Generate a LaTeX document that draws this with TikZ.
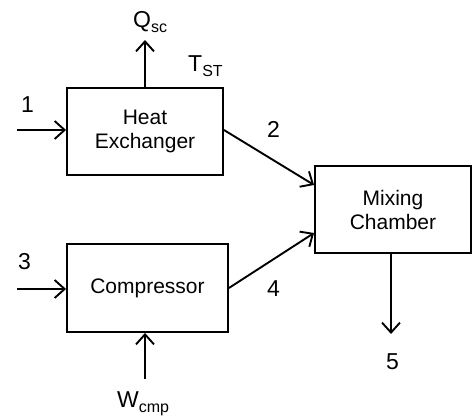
\documentclass[tikz,border=0pt]{standalone}
\usepackage{fontspec}
\setmainfont{Liberation Sans}
\usetikzlibrary{arrows.meta}
\newcommand{\sbs}[1]{\raisebox{-0.2em}{\fontsize{16}{16}\selectfont #1}}
\tikzset{
  blockbox/.style={draw, line width=1.9pt, inner sep=0pt, align=center,
    font=\fontsize{21}{24}\selectfont},
  flow/.style={line width=1.9pt, -{Straight Barb[length=10pt,width=18pt,line width=1.9pt]}},
  lbl/.style={inner sep=0pt, anchor=base west, font=\fontsize{23}{26}\selectfont},
}
\begin{document}
\begin{tikzpicture}[x=1pt,y=-1pt]
\useasboundingbox (0,0) rectangle (472,419);
% blocks
\node[blockbox, minimum width=156pt, minimum height=87pt] (he) at (145,131.5) {Heat\\Exchanger};
\node[blockbox, minimum width=161pt, minimum height=88pt] (cp) at (147.5,288) {Compressor};
\node[blockbox, minimum width=156pt, minimum height=87pt] (mx) at (393,209.5) {Mixing\\Chamber};
% free ends
\coordinate (in1) at (17,130);
\coordinate (in3) at (17,289);
\coordinate (qo) at (145,40);
\coordinate (wi) at (145,379);
\coordinate (out5) at (391,334);
% connectors
\draw[flow] (in1) -- (in1 -| he.west);
\draw[flow] (in3) -- (in3 -| cp.west);
\draw[flow] (qo |- he.north) -- (qo);
\draw[flow] (wi) -- (wi |- cp.south);
\draw[flow] ([yshift=1.5pt]he.east) -- ([yshift=24.5pt]mx.west);
\draw[flow] (cp.east) -- ([yshift=-23.5pt]mx.west);
\draw[flow] (out5 |- mx.south) -- (out5);
% labels
\node[lbl] (lq) at (133,28) {Q\sbs{sc}};
\node[lbl] (lt) at (188,72) {T\sbs{ST}};
\node[lbl] (l1) at (21,113) {1};
\node[lbl] (l2) at (267,138) {2};
\node[lbl] (l3) at (18,270) {3};
\node[lbl] (l4) at (267,297) {4};
\node[lbl] (l5) at (386,370) {5};
\node[lbl] (lw) at (117,408) {W\sbs{cmp}};
\end{tikzpicture}
\end{document}
